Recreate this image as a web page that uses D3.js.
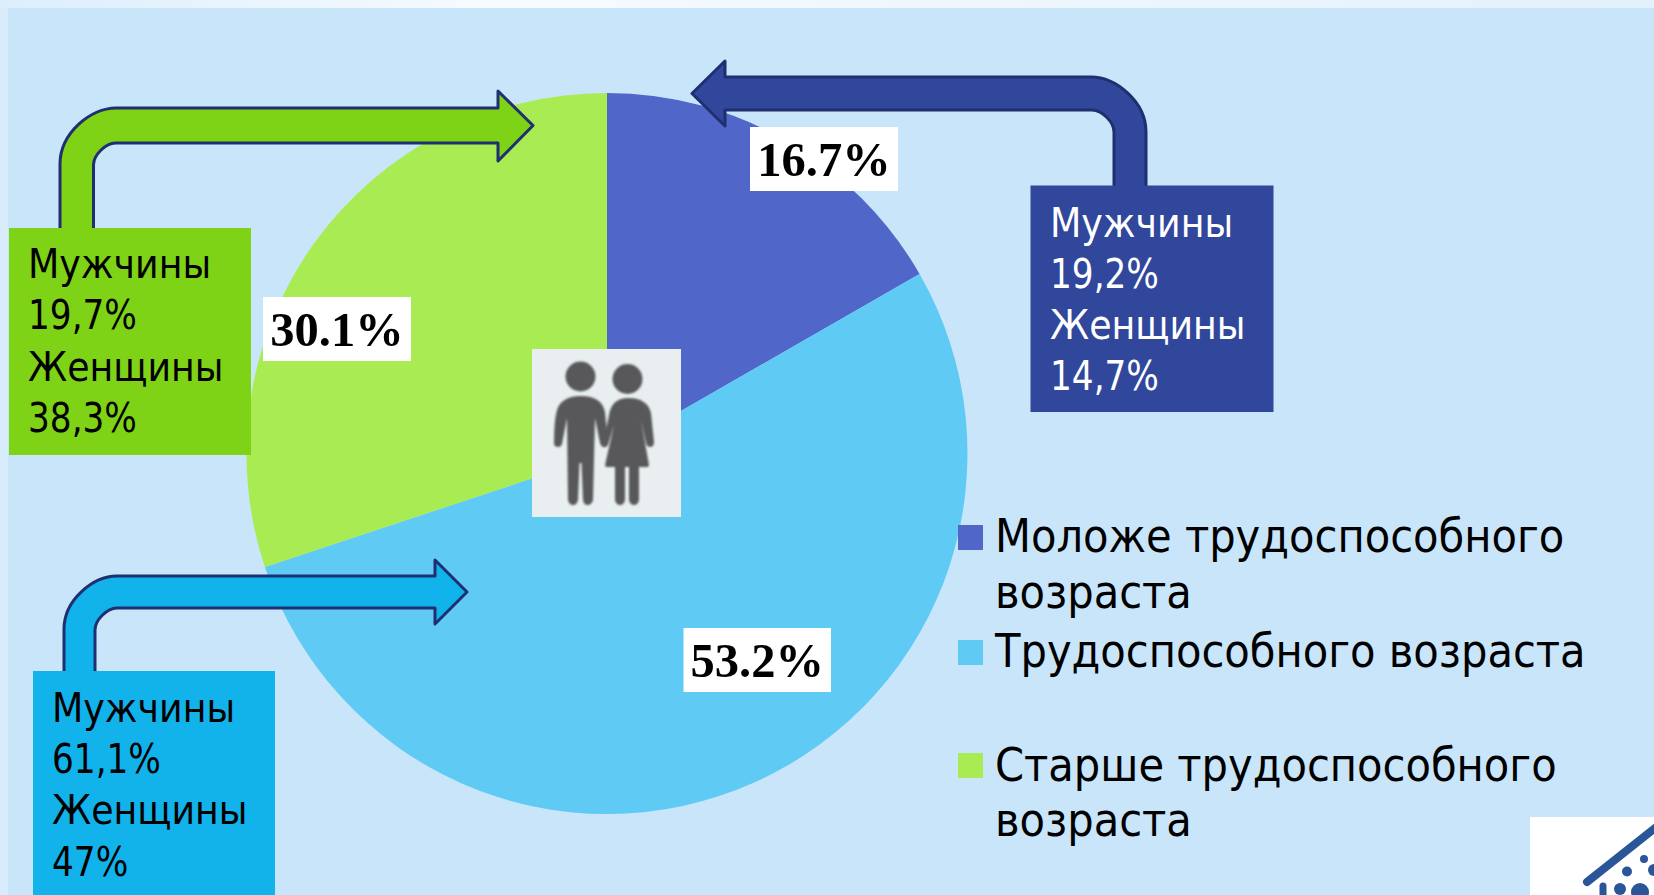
<!DOCTYPE html>
<html>
<head>
<meta charset="utf-8">
<script src="https://cdnjs.cloudflare.com/ajax/libs/d3/7.8.5/d3.min.js"></script>
<style>
    html, body { margin: 0; padding: 0; background: #C9E5FA; overflow: hidden; }
    svg { display: block; }
</style>
</head>
<body>
<div id="chart"></div>
<script>
    "use strict";

    // Pie data, clockwise from 12 o'clock.
    var categories = ["Моложе трудоспособного возраста", "Трудоспособного возраста", "Старше трудоспособного возраста"];
    var shares = [16.7, 53.2, 30.1];
    var colors = ["#5067C9", "#5FCBF4", "#A9EB53"];

    // Call-out boxes, same order as categories.
    var menLabels = ["19,2%", "61,1%", "19,7%"];
    var womenLabels = ["14,7%", "47%", "38,3%"];

    var legendLines = [["Моложе трудоспособного", "возраста"], ["Трудоспособного возраста"], ["Старше трудоспособного", "возраста"]];

    var width = 1654, height = 895;
    var cx = 607, cy = 453.5, radius = 360.5;
    var boxFont = "'DejaVu Sans Condensed', 'DejaVu Sans', sans-serif";

    var svg = d3.select("#chart").append("svg").attr("width", width).attr("height", height);

    var defs = svg.append("defs");
    var edge = defs.append("linearGradient").attr("id", "topEdge");
    edge.append("stop").attr("offset", "0").attr("stop-color", "#DCEEFD");
    edge.append("stop").attr("offset", "0.3").attr("stop-color", "#F6FBFF");
    edge.append("stop").attr("offset", "1").attr("stop-color", "#E3F1FC");
    defs.append("filter").attr("id", "soft").append("feGaussianBlur").attr("stdDeviation", 0.9);

    // Slide background with its pale rim.
    svg.append("rect").attr("width", width).attr("height", height).attr("fill", "#C9E5FA");
    svg.append("rect").attr("width", 8).attr("height", height).attr("fill", "#D9ECFC");
    svg.append("rect").attr("width", width).attr("height", 8).attr("fill", "url(#topEdge)");

    // Pie.
    var pie = d3.pie().sort(null).value(function (d) { return d; });
    var arc = d3.arc().innerRadius(0).outerRadius(radius);
    var color = d3.scaleOrdinal().domain(categories).range(colors);

    svg.append("g")
        .attr("transform", "translate(" + [cx, cy] + ")")
        .selectAll("path")
        .data(pie(shares))
        .enter().append("path")
        .attr("d", arc)
        .attr("fill", function (d, i) { return color(categories[i]); });

    // Bent arrow leaving the top of a box. dir is +1 for rightwards, -1 for leftwards.
    function bentArrow(a) {
        var d = a.dir;
        var p = d3.path();
        var kappa = 0.45;
        p.moveTo(a.outerX, a.bottom);
        p.lineTo(a.outerX, a.top + a.r);
        p.bezierCurveTo(a.outerX, a.top + a.r * kappa, a.outerX + d * a.r * (1 - kappa), a.top, a.outerX + d * a.r, a.top);
        p.lineTo(a.headX, a.top);
        p.lineTo(a.headX, a.headTop);
        p.lineTo(a.tipX, (a.top + a.lower) / 2);
        p.lineTo(a.headX, a.headBottom);
        p.lineTo(a.headX, a.lower);
        p.lineTo(a.innerX + d * a.ir, a.lower);
        p.bezierCurveTo(a.innerX + d * a.ir * (1 - kappa), a.lower, a.innerX, a.lower + a.ir * (1 - kappa), a.innerX, a.lower + a.ir);
        p.lineTo(a.innerX, a.bottom);
        return p.toString();
    }

    var callouts = [
        {fill: "#30479C", text: "#FFFFFF", box: [1030.5, 185.5, 243, 226.5], textX: 1050, lines: [237, 288, 339, 390],
            arrow: {dir: -1, outerX: 1146, innerX: 1114, bottom: 186, top: 77, lower: 110, r: 55, ir: 22, headX: 725, headTop: 61, headBottom: 126, tipX: 692}},
        {fill: "#12B2EB", text: "#000000", box: [33, 671, 242, 224], textX: 52, lines: [722, 773, 824, 876],
            arrow: {dir: 1, outerX: 64, innerX: 95, bottom: 671, top: 576, lower: 608, r: 53, ir: 22, headX: 435, headTop: 560, headBottom: 624, tipX: 467}},
        {fill: "#7FD317", text: "#000000", box: [9, 228, 242, 227], textX: 28, lines: [278, 329, 381, 432],
            arrow: {dir: 1, outerX: 60, innerX: 93.5, bottom: 228, top: 108, lower: 143, r: 56, ir: 22, headX: 498, headTop: 91, headBottom: 161, tipX: 533}}
    ];

    var callout = svg.append("g").selectAll("g")
        .data(callouts)
        .enter().append("g");

    callout.append("path")
        .attr("d", function (d) { return bentArrow(d.arrow); })
        .attr("fill", function (d) { return d.fill; })
        .attr("stroke", "#1F2F70")
        .attr("stroke-width", 3)
        .attr("stroke-linejoin", "round");

    callout.append("rect")
        .attr("x", function (d) { return d.box[0]; })
        .attr("y", function (d) { return d.box[1]; })
        .attr("width", function (d) { return d.box[2]; })
        .attr("height", function (d) { return d.box[3]; })
        .attr("fill", function (d) { return d.fill; });

    callout.each(function (d, i) {
        var rows = ["Мужчины", menLabels[i], "Женщины", womenLabels[i]];
        d3.select(this).selectAll("text")
            .data(rows)
            .enter().append("text")
            // the numbers are set narrower than the words in the original
            .attr("transform", function (r, k) {
                return "translate(" + [d.textX, d.lines[k]] + ") scale(" + (k % 2 ? 0.93 : 0.985) + ",1)";
            })
            .attr("fill", d.text)
            .attr("font-family", boxFont)
            .attr("font-size", 41)
            .text(function (r) { return r; });
    });

    // White value labels on the pie.
    var valueBoxes = [[750, 127, 148, 64], [683.5, 628, 147.5, 64], [263, 297, 148, 64]];
    var valueLabel = svg.append("g").selectAll("g")
        .data(shares)
        .enter().append("g");

    valueLabel.append("rect")
        .attr("x", function (d, i) { return valueBoxes[i][0]; })
        .attr("y", function (d, i) { return valueBoxes[i][1]; })
        .attr("width", function (d, i) { return valueBoxes[i][2]; })
        .attr("height", function (d, i) { return valueBoxes[i][3]; })
        .attr("fill", "#FFFFFF");

    valueLabel.append("text")
        .attr("x", function (d, i) { return valueBoxes[i][0] + valueBoxes[i][2] / 2; })
        .attr("y", function (d, i) { return valueBoxes[i][1] + 49; })
        .attr("text-anchor", "middle")
        .attr("font-family", "'Liberation Serif', serif")
        .attr("font-weight", "bold")
        .attr("font-size", 48.5)
        .attr("fill", "#000000")
        .text(function (d) { return d3.format(".1f")(d) + "%"; });

    // People pictogram in the middle of the pie.
    var people = svg.append("g");
    people.append("rect").attr("x", 532).attr("y", 349).attr("width", 149).attr("height", 168).attr("fill", "#E9EFF0");
    var figures = people.append("g").attr("fill", "#58585A").attr("filter", "url(#soft)");
    figures.append("circle").attr("cx", 580.5).attr("cy", 376.5).attr("r", 15);
    figures.append("circle").attr("cx", 627.5).attr("cy", 379).attr("r", 15);
    // man
    figures.append("path").attr("d", "M580 396 C596 396 603 402 605 412 L608 442 Q608 447 604 447 Q601 447 600 443 L595 418 L593 500 Q592 505 587 505 Q584 505 583 500 L581.5 463 L579.5 463 L578 500 Q577 505 573 505 Q569 505 568 500 L567 418 L562 444 Q561 447 558 447 Q554 447 554 443 Q554 420 557 410 C560 400 570 396 580 396 Z");
    // woman
    figures.append("path").attr("d", "M628 398 C642 398 649 404 651 413 L654 442 Q654 447 650 447 Q647 447 646 443 L641 420 L649 465 L648 467 L639 467 L639 500 Q638 505 634 505 Q630 505 629 500 L629 467 L625 467 L625 500 Q624 505 620 505 Q616 505 615 500 L615 467 L606 467 L605 465 L614 425 L608 445 Q606 448 603 447 L604 440 L609 415 C611 403 618 398 628 398 Z");

    // Legend.
    var swatchY = [525, 640, 753];
    var baselines = [[552, 608], [667], [780.5, 835.5]];
    var legend = svg.append("g").selectAll("g")
        .data(categories)
        .enter().append("g");

    legend.append("rect")
        .attr("x", 958)
        .attr("y", function (d, i) { return swatchY[i]; })
        .attr("width", 25)
        .attr("height", 25)
        .attr("fill", function (d) { return color(d); });

    legend.each(function (d, i) {
        d3.select(this).selectAll("text")
            .data(legendLines[i])
            .enter().append("text")
            .attr("x", 995)
            .attr("y", function (r, k) { return baselines[i][k]; })
            .attr("font-family", boxFont)
            .attr("font-size", 46.3)
            .attr("fill", "#000000")
            .text(function (r) { return r; });
    });

    // Corner logo, cut by the page edge.
    var logo = svg.append("g");
    logo.append("rect").attr("x", 1530).attr("y", 817).attr("width", 124).attr("height", 78).attr("fill", "#FFFFFF");
    logo.append("line").attr("x1", 1587).attr("y1", 882).attr("x2", 1660).attr("y2", 824)
        .attr("stroke", "#2A5599").attr("stroke-width", 8).attr("stroke-linecap", "round");
    logo.append("line").attr("x1", 1603).attr("y1", 886).attr("x2", 1603).attr("y2", 900)
        .attr("stroke", "#2A5599").attr("stroke-width", 7).attr("stroke-linecap", "round");
    var dots = [[1644, 859, 4], [1627, 871.5, 5], [1654, 870, 6], [1620, 889, 6], [1640, 892, 9]];
    logo.selectAll("circle").data(dots).enter().append("circle")
        .attr("cx", function (d) { return d[0]; })
        .attr("cy", function (d) { return d[1]; })
        .attr("r", function (d) { return d[2]; })
        .attr("fill", "#2A5599");
</script>
</body>
</html>
